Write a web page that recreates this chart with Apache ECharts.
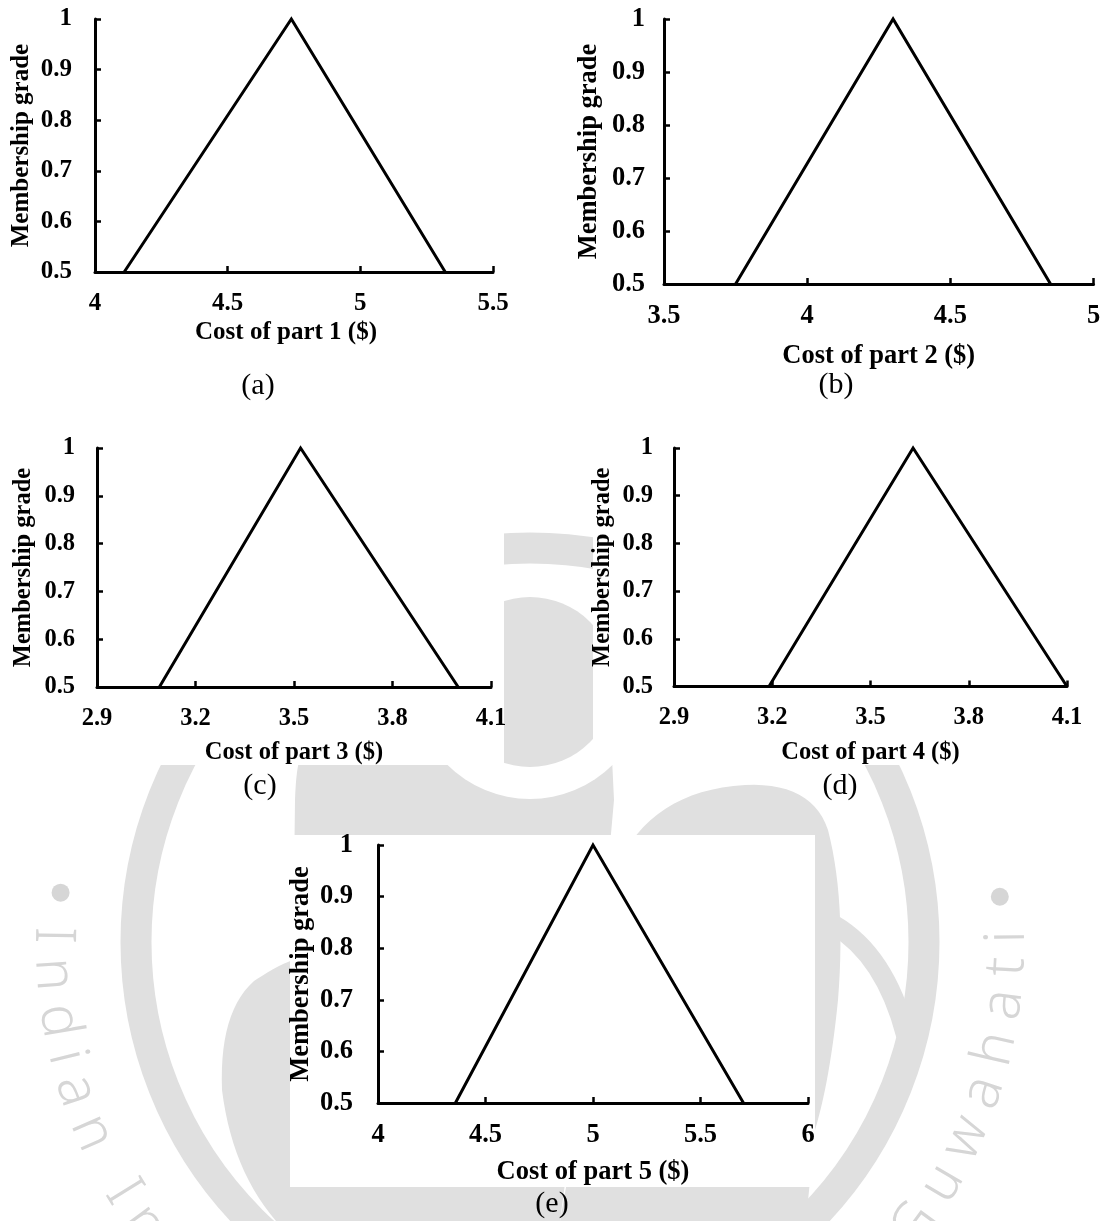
<!DOCTYPE html>
<html>
<head>
<meta charset="utf-8">
<script src="https://cdn.jsdelivr.net/npm/echarts@6/dist/echarts.min.js"></script>
<style>
  html, body { margin: 0; padding: 0; background: #fff; }
  #main { width: 1105px; height: 1221px; }
</style>
</head>
<body>
<div id="main"></div>
<script>
// Triangular fuzzy costs: [cost, membership grade] at the three vertices
const part1 = [[4.11, 0.5], [4.74, 1], [5.32, 0.5]];
const part2 = [[3.75, 0.5], [4.30, 1], [4.85, 0.5]];
const part3 = [[3.09, 0.5], [3.52, 1], [4.00, 0.5]];
const part4 = [[3.19, 0.5], [3.63, 1], [4.10, 0.5]];
const part5 = [[4.36, 0.5], [5.00, 1], [5.70, 0.5]];

// Tick values of each cost axis and the shared grade axis
const xTicks1 = [4, 4.5, 5, 5.5];
const xTicks2 = [3.5, 4, 4.5, 5];
const xTicks3 = [2.9, 3.2, 3.5, 3.8, 4.1];
const xTicks4 = [2.9, 3.2, 3.5, 3.8, 4.1];
const xTicks5 = [4, 4.5, 5, 5.5, 6];
const yTicks = [0.5, 0.6, 0.7, 0.8, 0.9, 1];

const xTitles = ['Cost of part 1 ($)', 'Cost of part 2 ($)', 'Cost of part 3 ($)', 'Cost of part 4 ($)', 'Cost of part 5 ($)'];
const yTitle = 'Membership grade';
const captions = ['(a)', '(b)', '(c)', '(d)', '(e)'];

const seriesData = [part1, part2, part3, part4, part5];
const xTickSets = [xTicks1, xTicks2, xTicks3, xTicks4, xTicks5];

// Panel geometry (pixels)
const layout = [
  { grid: [95, 19, 398, 253],  fs: 25,   yLM: 23, xLM: 19, yNG: 60.5, xNG: 48.5, xShift: -8, cap: [258, 386] },
  { grid: [664, 19, 429.5, 265], fs: 26.5, yLM: 19, xLM: 19, yNG: 61.5, xNG: 58.5, xShift: 0,  cap: [836, 385] },
  { grid: [97, 448, 394, 239],  fs: 24.5, yLM: 22, xLM: 19, yNG: 60.5, xNG: 53.5, xShift: 0,  cap: [260, 786] },
  { grid: [674, 448, 393, 238.5], fs: 24.5, yLM: 21, xLM: 19, yNG: 58.5, xNG: 53.5, xShift: 0,  cap: [840, 786] },
  { grid: [378, 845, 430, 258], fs: 26.5, yLM: 25, xLM: 19, yNG: 63.5, xNG: 55.5, xShift: 0,  cap: [552, 1204] }
];

const SERIF = '"Liberation Serif", "Times New Roman", serif';
const INK = '#000';
const WM = '#e0e0e0';

const grids = [], xAxes = [], yAxes = [], series = [];
layout.forEach((L, i) => {
  const ticks = xTickSets[i];
  grids.push({ left: L.grid[0], top: L.grid[1], width: L.grid[2], height: L.grid[3], containLabel: false });
  const txt = { fontFamily: SERIF, fontWeight: 'bold', color: INK, fontSize: L.fs };
  xAxes.push({
    gridIndex: i, type: 'value',
    min: ticks[0], max: ticks[ticks.length - 1],
    interval: ticks[1] - ticks[0],
    name: xTitles[i], nameLocation: 'middle', nameGap: L.xNG,
    nameTextStyle: Object.assign({}, txt, L.xShift < 0 ? { padding: [0, -2 * L.xShift, 0, 0] } : {}),
    axisLine: { show: true, onZero: false, lineStyle: { color: INK, width: 3 } },
    axisTick: { show: true, inside: true, length: 6, customValues: ticks, lineStyle: { color: INK, width: 2.5 } },
    axisLabel: Object.assign({ margin: L.xLM, customValues: ticks, showMinLabel: true, showMaxLabel: true }, txt),
    splitLine: { show: false }
  });
  yAxes.push({
    gridIndex: i, type: 'value', min: 0.5, max: 1, interval: 0.1,
    name: yTitle, nameLocation: 'middle', nameRotate: 90, nameGap: L.yNG,
    nameTextStyle: txt,
    axisLine: { show: true, onZero: false, lineStyle: { color: INK, width: 3 } },
    axisTick: { show: true, inside: true, length: 6, customValues: yTicks, lineStyle: { color: INK, width: 2.5 } },
    axisLabel: Object.assign({ margin: L.yLM, customValues: yTicks }, txt),
    splitLine: { show: false }
  });
  series.push({
    type: 'line', xAxisIndex: i, yAxisIndex: i, data: seriesData[i],
    showSymbol: false, clip: false, silent: true,
    lineStyle: { color: INK, width: 3, join: 'miter' }, z: 3
  });
});

// ---- faint institute seal behind the panels ----
const seal = { cx: 530, cy: 942 };
const wm = [];

// outline helper: straight and quadratic pieces flattened into polygon points
function outline(start, pieces) {
  const pts = [start.slice()];
  let p = start;
  pieces.forEach(seg => {
    if (seg.length === 1) { pts.push(seg[0].slice()); p = seg[0]; return; }
    const c = seg[0], e = seg[1];
    for (let k = 1; k <= 14; k++) {
      const t = k / 14, u = 1 - t;
      pts.push([u * u * p[0] + 2 * u * t * c[0] + t * t * e[0], u * u * p[1] + 2 * u * t * c[1] + t * t * e[1]]);
    }
    p = e;
  });
  return pts;
}

// outer ring
wm.push({ type: 'circle', silent: true, z: -20,
  shape: { cx: seal.cx, cy: seal.cy, r: 394 },
  style: { fill: 'none', stroke: WM, lineWidth: 31 } });
// left emblem lobe
wm.push({ type: 'polygon', silent: true, z: -20,
  shape: { points: outline([300, 758], [
    [[612, 758]], [[614, 800]], [[610, 845]], [[560, 1221]], [[276, 1221]],
    [[232, 1170], [222, 1090]], [[219, 1012], [254, 981]], [[278, 965], [293, 960]],
    [[295, 800]], [[296, 770], [300, 758]]
  ]) },
  style: { fill: WM } });
// right emblem lobe
wm.push({ type: 'polygon', silent: true, z: -20,
  shape: { points: outline([626, 850], [
    [[662, 790], [745, 785]], [[812, 782], [828, 830]], [[846, 900], [838, 1000]],
    [[830, 1080], [815, 1130]], [[806, 1221]], [[560, 1221]], [[626, 850]]
  ]) },
  style: { fill: WM } });
// ribbon joining the right lobe to the ring
wm.push({ type: 'bezierCurve', silent: true, z: -20,
  shape: { x1: 834, y1: 925, cpx1: 885, cpy1: 955, x2: 906, y2: 1035 },
  style: { stroke: WM, lineWidth: 20, fill: 'none' } });
// upper disc with its white halo
wm.push({ type: 'circle', silent: true, z: -19, shape: { cx: 530, cy: 682, r: 117 }, style: { fill: '#fff' } });
wm.push({ type: 'circle', silent: true, z: -18, shape: { cx: 530, cy: 682, r: 85 }, style: { fill: WM } });

// lettering around the seal
(function () {
  const text = 'Indian Institute of Technology Guwahati';
  const r = 478, fsz = 56, startDeg = 180.8, endDeg = -0.6;
  const ctx = document.createElement('canvas').getContext('2d');
  ctx.font = '300 ' + fsz + 'px "Noto Sans"';
  const chars = text.split('');
  const w = chars.map(ch => ctx.measureText(ch).width);
  const natural = w.reduce((s, v) => s + v, 0) - w[0] / 2 - w[w.length - 1] / 2;
  const arcLen = (startDeg - endDeg) * Math.PI / 180 * r;
  const gap = (arcLen - natural) / (chars.length - 1);
  let s = 0;
  chars.forEach((ch, i) => {
    if (i > 0) s += w[i - 1] / 2 + w[i] / 2 + gap;
    const th = startDeg * Math.PI / 180 - s / r;
    const x = seal.cx + r * Math.cos(th), y = seal.cy + r * Math.sin(th);
    if (ch === ' ' || y > 1260) return;
    wm.push({ type: 'text', silent: true, z: -20, x: x, y: y, rotation: Math.PI / 2 - th,
      style: { text: ch, fontFamily: '"Noto Sans"', fontWeight: 300, fontSize: fsz, fill: '#d6d6d6', align: 'center', verticalAlign: 'middle' } });
  });
  [186, -5.5].forEach(d => {
    const th = d * Math.PI / 180;
    wm.push({ type: 'circle', silent: true, z: -20,
      shape: { cx: seal.cx + 472 * Math.cos(th), cy: seal.cy + 472 * Math.sin(th), r: 9 },
      style: { fill: '#d6d6d6' } });
  });
})();

// white panel backgrounds
const boxes = [[0, 405, 504, 360], [593, 405, 512, 360], [290, 835, 525, 352]];
boxes.forEach(b => wm.push({ type: 'rect', silent: true, z: -10,
  shape: { x: b[0], y: b[1], width: b[2], height: b[3] }, style: { fill: '#fff' } }));

// sub-figure captions
layout.forEach((L, i) => wm.push({ type: 'text', silent: true, z: 5, x: L.cap[0], y: L.cap[1],
  style: { text: captions[i], fontFamily: SERIF, fontSize: 30, fill: INK, align: 'center', verticalAlign: 'middle' } }));

const chart = echarts.init(document.getElementById('main'), null, { renderer: 'canvas' });
chart.setOption({
  backgroundColor: '#fff',
  animation: false,
  grid: grids,
  xAxis: xAxes,
  yAxis: yAxes,
  series: series,
  graphic: { elements: wm }
});
</script>
</body>
</html>
